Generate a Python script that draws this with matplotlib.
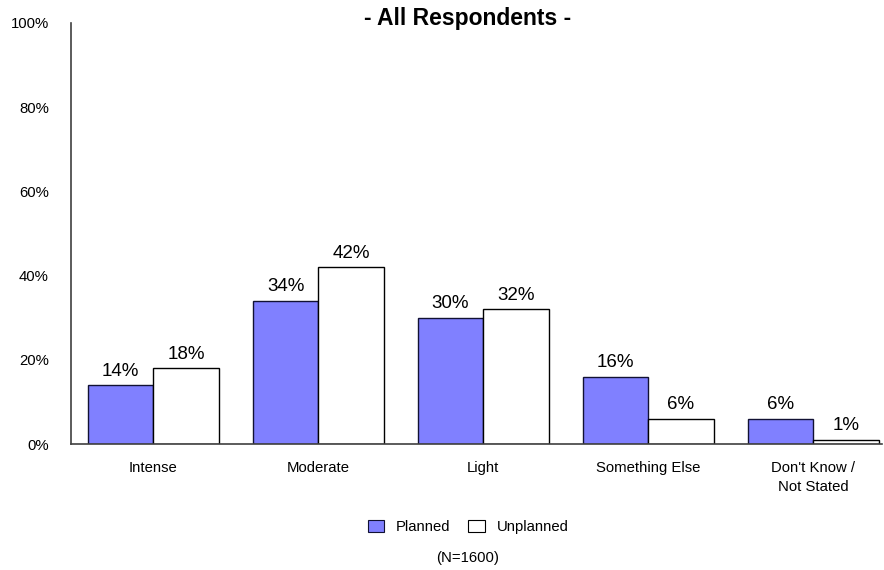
import matplotlib
matplotlib.use("Agg")
import matplotlib.pyplot as plt
import numpy as np
from matplotlib.patches import Patch

plt.rcParams['font.family'] = ['Liberation Sans', 'DejaVu Sans']

categories = ['Intense', 'Moderate', 'Light', 'Something Else', "Don't Know /\nNot Stated"]
planned = [14, 34, 30, 16, 6]
unplanned = [18, 42, 32, 6, 1]
series_names = ['Planned', 'Unplanned']
y_ticks = [0, 20, 40, 60, 80, 100]

W, H = 884, 570
fig = plt.figure(figsize=(W / 100, H / 100), dpi=100)
# axes in pixel coords: left 71, right 882, bottom 444, top 23
ax = fig.add_axes([71 / W, 1 - 444 / H, (882 - 71) / W, (444 - 23) / H])

x = np.arange(len(categories))
width = 0.397
color_planned = '#8080FF'
color_unplanned = '#FFFFFF'
small = 10.7

r1 = ax.bar(x - width / 2, planned, width, color=color_planned, edgecolor='#111133', linewidth=1.0)
r2 = ax.bar(x + width / 2, unplanned, width, color=color_unplanned, edgecolor='black', linewidth=1.0)

for rects, vals in ((r1, planned), (r2, unplanned)):
    for rect, v in zip(rects, vals):
        ax.annotate(f'{v}%', xy=(rect.get_x() + rect.get_width() / 2, rect.get_height()),
                    xytext=(0, 4), textcoords='offset points',
                    ha='center', va='bottom', fontsize=13.5)

ax.set_xlim(-0.5, (882 - 153) / 165)
ax.set_ylim(0, 100)
ax.set_yticks(y_ticks)
ax.set_yticklabels([f'{t}%' for t in y_ticks], fontsize=small)
ax.set_xticks(x)
ax.set_xticklabels(categories, fontsize=small, linespacing=1.45)
ax.tick_params(axis='both', length=0)
ax.tick_params(axis='x', pad=12)
ax.tick_params(axis='y', pad=16)

for s in ('top', 'right'):
    ax.spines[s].set_visible(False)
ax.spines['left'].set_color('#404040')
ax.spines['bottom'].set_color('#404040')
ax.spines['left'].set_linewidth(1.2)
ax.spines['bottom'].set_linewidth(1.2)

fig.text(468 / W, 1 - 19 / H, '- All Respondents -', ha='center', va='center',
         fontsize=16.5, fontweight='bold')

handles = [Patch(facecolor=color_planned, edgecolor='#111133', linewidth=0.8),
           Patch(facecolor=color_unplanned, edgecolor='black', linewidth=0.8)]
fig.legend(handles, series_names, loc='center', bbox_to_anchor=(468 / W, 1 - 527 / H),
           ncol=2, frameon=False, fontsize=small, handlelength=1.1, handleheight=0.8,
           columnspacing=1.2, handletextpad=0.8)

fig.text(468 / W, 1 - 558 / H, '(N=1600)', ha='center', va='center', fontsize=small)

fig.savefig('out.png', dpi=100)
